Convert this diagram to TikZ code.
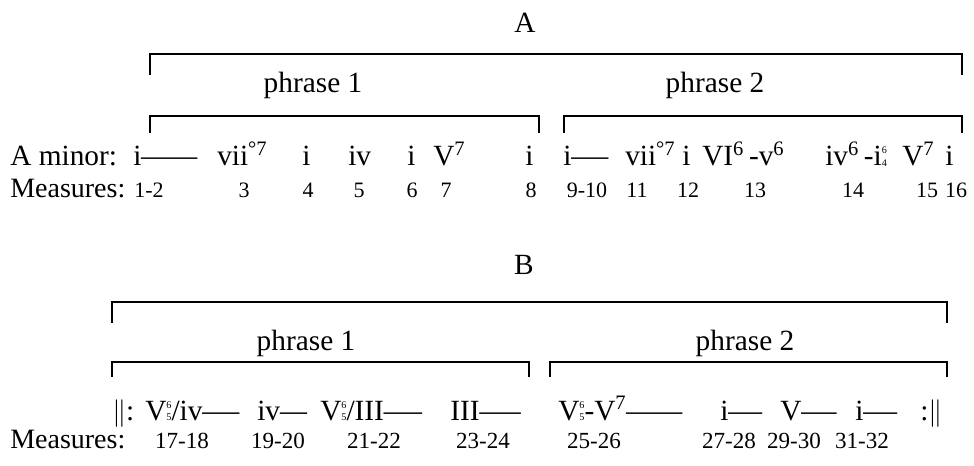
\documentclass[tikz,border=0pt]{standalone}
\usepackage{fontspec}
\setmainfont{Liberation Serif}
\newcommand\fb[2]{\lower0.6pt\vbox{\fontsize{7.6}{9.6}\selectfont\hbox{#1}\hbox{#2}}}
\newcommand\sps[1]{\textsuperscript{#1}}
\newcommand\dbar{\(\|\)}
\newcommand\dsh[1]{\scalebox{#1}[1]{—}}
\begin{document}
\begin{tikzpicture}[x=0.75pt,y=-0.75pt,
  txt/.style={anchor=base west,inner sep=0pt,font=\fontsize{22}{26}\selectfont},
  meas/.style={anchor=base west,inner sep=0pt,font=\fontsize{21}{25}\selectfont},
  lbl/.style={anchor=base,inner sep=0pt,font=\fontsize{22}{26}\selectfont},
  numa/.style={anchor=base,inner sep=0pt,font=\fontsize{16.5}{20}\selectfont},
  numb/.style={anchor=base,inner sep=0pt,font=\fontsize{17.3}{20}\selectfont},
  brk/.style={line width=1.4pt,line join=miter}]
\useasboundingbox (0,0) rectangle (974,466);

% ---------- Section A ----------
\node[lbl] (labA) at (525,33) {A};
\draw[brk] (150,75) -- (150,54) -- (962,54) -- (962,75);
\node[lbl] (aph1) at (313,93) {phrase 1};
\node[lbl] (aph2) at (715,93) {phrase 2};
\draw[brk] (150,133) -- (150,116) -- (539,116) -- (539,133);
\draw[brk] (564,133) -- (564,116) -- (962,116) -- (962,133);

\node[txt] (akey) at (10,166) {A minor:};
\node[txt] (ac1) at (133,166) {i\dsh{1.9}};
\node[txt] (ac2) at (217,166) {vii\sps{°7}};
\node[txt] (ac3) at (302,166) {i};
\node[txt] (ac4) at (348,166) {iv};
\node[txt] (ac5) at (407,166) {i};
\node[txt] (ac6) at (433,166) {V\sps{7}};
\node[txt] (ac7) at (525,166) {i};
\node[txt] (ac8) at (563,166) {i\dsh{1.26}};
\node[txt] (ac9) at (625,166) {vii\sps{°7}};
\node[txt] (ac10) at (682,166) {i};
\node[txt] (ac11) at (702,166) {VI\sps{6}\,-v\sps{6}};
\node[txt] (ac12) at (825,166) {iv\sps{6}\,-i\fb{6}{4}};
\node[txt] (ac13) at (902,166) {V\sps{7}};
\node[txt] (ac14) at (945,166) {i};

\node[meas] (ameas) at (10,198) {Measures:};
\node[numa] (am1) at (149,198) {1-2};
\node[numa] (am2) at (244,198) {3};
\node[numa] (am3) at (308,198) {4};
\node[numa] (am4) at (359,198) {5};
\node[numa] (am5) at (412,198) {6};
\node[numa] (am6) at (446,198) {7};
\node[numa] (am7) at (531,198) {8};
\node[numa] (am8) at (587,198) {9-10};
\node[numa] (am9) at (637,198) {11};
\node[numa] (am10) at (688,198) {12};
\node[numa] (am11) at (755,198) {13};
\node[numa] (am12) at (853,198) {14};
\node[numa] (am13) at (927,198) {15};
\node[numa] (am14) at (956,198) {16};

% ---------- Section B ----------
\node[lbl] (labB) at (524,275) {B};
\draw[brk] (112,323) -- (112,302) -- (947,302) -- (947,323);
\node[lbl] (bph1) at (306,350) {phrase 1};
\node[lbl] (bph2) at (745,350) {phrase 2};
\draw[brk] (112,377) -- (112,362) -- (529,362) -- (529,377);
\draw[brk] (550,377) -- (550,362) -- (947,362) -- (947,377);

\node[txt] (bc0) at (112,420) {\dbar:};
\node[txt] (bc1) at (145,420) {V\fb{6}{5}/iv\dsh{1.26}};
\node[txt] (bc2) at (257,420) {iv\dsh{0.92}};
\node[txt] (bc3) at (320,420) {V\fb{6}{5}/III\dsh{1.3}};
\node[txt] (bc4) at (450,420) {III\dsh{1.4}};
\node[txt] (bc5) at (558,420) {V\fb{6}{5}-V\sps{7}\dsh{1.9}};
\node[txt] (bc6) at (720,420) {i\dsh{1.15}};
\node[txt] (bc7) at (780,420) {V\dsh{1.2}};
\node[txt] (bc8) at (855,420) {i\dsh{1.15}};
\node[txt] (bc9) at (920,420) {:\dbar};

\node[meas] (bmeas) at (10,448) {Measures:};
\node[numb] (bm1) at (182,448) {17-18};
\node[numb] (bm2) at (278,448) {19-20};
\node[numb] (bm3) at (374,448) {21-22};
\node[numb] (bm4) at (483,448) {23-24};
\node[numb] (bm5) at (594,448) {25-26};
\node[numb] (bm6) at (729,448) {27-28};
\node[numb] (bm7) at (794,448) {29-30};
\node[numb] (bm8) at (862,448) {31-32};
\end{tikzpicture}
\end{document}
